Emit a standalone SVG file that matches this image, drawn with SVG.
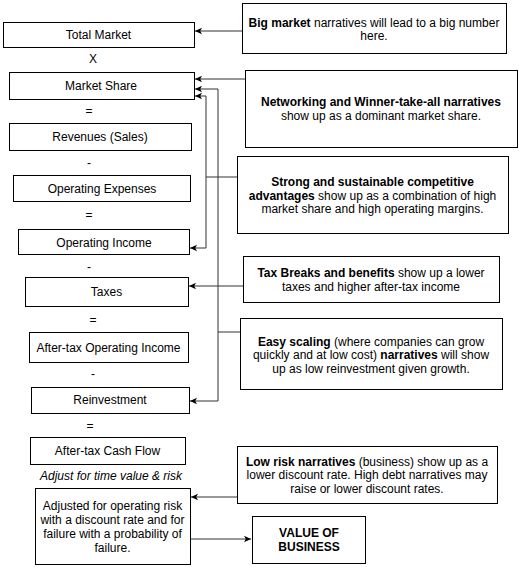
<svg xmlns="http://www.w3.org/2000/svg" width="519" height="567" viewBox="0 0 519 567">
<style>
.box{fill:#fff;stroke:#000;stroke-width:1}
text{font-family:"Liberation Sans",Arial,sans-serif;font-size:12px;fill:#000;text-anchor:middle}
.b{font-weight:bold}
.i{font-style:italic}
.c{fill:none;stroke:#333;stroke-width:1}
</style>
<defs>
<marker id="ah" markerUnits="userSpaceOnUse" markerWidth="8" markerHeight="8" viewBox="0 0 8 8" refX="7" refY="4" orient="auto">
<path d="M0,0.8 L7,4 L0,7.2 L1.8,4 Z" fill="#000"/>
</marker>
</defs>
<g id="connectors">
<path class="c" d="M242,31 H195" marker-end="url(#ah)"/>
<path class="c" d="M245,79 H195" marker-end="url(#ah)"/>
<path class="c" d="M237,177 H206 M206,96 V248 M206,96 H195" marker-end="url(#ah)"/>
<path class="c" d="M206,248 H190" marker-end="url(#ah)"/>
<path class="c" d="M240,332 H218 M218,89 V401 M218,89 H195" marker-end="url(#ah)"/>
<path class="c" d="M218,401 H190" marker-end="url(#ah)"/>
<path class="c" d="M243,286 H189" marker-end="url(#ah)"/>
<path class="c" d="M237,497 H191" marker-end="url(#ah)"/>
<path class="c" d="M190,539 H251" marker-end="url(#ah)"/>
</g>
<g id="total-market"><rect class="box" x="3.5" y="22.5" width="191" height="25"/><text x="98.5" y="39">Total Market</text></g>
<g id="op-x"><text x="93" y="63">X</text></g>
<g id="market-share"><rect class="box" x="9.5" y="72.5" width="185" height="27"/><text x="101" y="90">Market Share</text></g>
<g id="op-eq1"><text x="89" y="115">=</text></g>
<g id="revenues"><rect class="box" x="9.5" y="123.5" width="182" height="27"/><text x="100" y="141">Revenues (Sales)</text></g>
<g id="op-minus1"><text x="89" y="167">-</text></g>
<g id="operating-expenses"><rect class="box" x="13.5" y="175.5" width="177" height="26"/><text x="102" y="193">Operating Expenses</text></g>
<g id="op-eq2"><text x="89" y="219">=</text></g>
<g id="operating-income"><rect class="box" x="18.5" y="229.5" width="171" height="25"/><text x="104" y="247">Operating Income</text></g>
<g id="op-minus2"><text x="89" y="271">-</text></g>
<g id="taxes"><rect class="box" x="25.5" y="277.5" width="163" height="29"/><text x="106.5" y="296">Taxes</text></g>
<g id="op-eq3"><text x="93" y="324">=</text></g>
<g id="after-tax-oi"><rect class="box" x="29.5" y="332.5" width="159" height="30"/><text x="108.5" y="352">After-tax Operating Income</text></g>
<g id="op-minus3"><text x="93" y="378">-</text></g>
<g id="reinvestment"><rect class="box" x="31.5" y="387.5" width="158" height="26"/><text x="110" y="404">Reinvestment</text></g>
<g id="op-eq4"><text x="90" y="430">=</text></g>
<g id="after-tax-cf"><rect class="box" x="30.5" y="437.5" width="155" height="27"/><text x="107.5" y="455">After-tax Cash Flow</text></g>
<g id="adjust-label"><text class="i" x="111" y="480">Adjust for time value &amp; risk</text></g>
<g id="adjusted"><rect class="box" x="35.5" y="488.5" width="155" height="76"/>
<text x="112.5" y="510">Adjusted for operating risk</text>
<text x="112.5" y="524">with a discount rate and for</text>
<text x="112.5" y="538">failure with a probability of</text>
<text x="112.5" y="552">failure.</text></g>
<g id="value"><rect class="box" x="252.5" y="516.5" width="113" height="47"/>
<text class="b" x="309" y="537">VALUE OF</text>
<text class="b" x="309" y="551">BUSINESS</text></g>
<g id="big-market"><rect class="box" x="242.5" y="3.5" width="264" height="50"/>
<text x="374" y="27"><tspan class="b">Big market</tspan> narratives will lead to a big number</text>
<text x="374" y="40">here.</text></g>
<g id="networking"><rect class="box" x="245.5" y="70.5" width="272" height="77"/>
<text class="b" x="381" y="106">Networking and Winner-take-all narratives</text>
<text x="381" y="120">show up as a dominant market share.</text></g>
<g id="strong"><rect class="box" x="237.5" y="156.5" width="271" height="77"/>
<text class="b" x="372.5" y="186">Strong and sustainable competitive</text>
<text x="372.5" y="199.5"><tspan class="b">advantages</tspan> show up as a combination of high</text>
<text x="372.5" y="213">market share and high operating margins.</text></g>
<g id="tax-breaks"><rect class="box" x="243.5" y="256.5" width="256" height="46"/>
<text x="371" y="277"><tspan class="b">Tax Breaks and benefits</tspan> show up a lower</text>
<text x="371" y="291">taxes and higher after-tax income</text></g>
<g id="easy-scaling"><rect class="box" x="240.5" y="318.5" width="262" height="71"/>
<text x="371" y="345.5"><tspan class="b">Easy scaling</tspan> (where companies can grow</text>
<text x="371" y="359">quickly and at low cost) <tspan class="b">narratives</tspan> will show</text>
<text x="371" y="372.5">up as low reinvestment given growth.</text></g>
<g id="low-risk"><rect class="box" x="237.5" y="446.5" width="260" height="57"/>
<text x="367" y="465.5"><tspan class="b">Low risk narratives</tspan> (business) show up as a</text>
<text x="367" y="479">lower discount rate. High debt narratives may</text>
<text x="367" y="492.5">raise or lower discount rates.</text></g>
</svg>
